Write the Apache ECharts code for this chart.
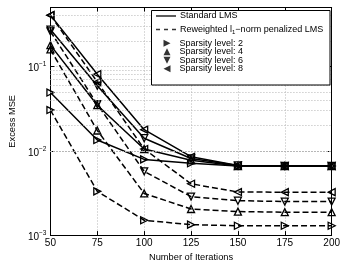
<!DOCTYPE html>
<html>
<head>
<meta charset="utf-8">
<script src="https://cdn.jsdelivr.net/npm/echarts@6/dist/echarts.min.js"></script>
<style>
html,body{margin:0;padding:0;background:#fff;}
#chart{width:343px;height:267px;}
</style>
</head>
<body>
<div id="chart"></div>
<script>
const iterations = [50, 75, 100, 125, 150, 175, 200];
const xTicks = [50, 75, 100, 125, 150, 175, 200];
const yTickLabels = ['10^-3', '10^-2', '10^-1'];
const stdLevel2 = [4.9e-2, 1.34e-2, 7.9e-3, 7.1e-3, 6.6e-3, 6.6e-3, 6.6e-3];
const stdLevel4 = [0.179, 3.47e-2, 1.05e-2, 7.7e-3, 6.6e-3, 6.6e-3, 6.6e-3];
const stdLevel6 = [0.274, 5.9e-2, 1.41e-2, 8.1e-3, 6.7e-3, 6.6e-3, 6.6e-3];
const stdLevel8 = [0.406, 8.1e-2, 1.78e-2, 8.5e-3, 6.7e-3, 6.6e-3, 6.6e-3];
const rwLevel2 = [3.04e-2, 3.3e-3, 1.50e-3, 1.33e-3, 1.29e-3, 1.29e-3, 1.29e-3];
const rwLevel4 = [0.159, 1.74e-2, 3.12e-3, 2.04e-3, 1.90e-3, 1.87e-3, 1.87e-3];
const rwLevel6 = [0.26, 3.56e-2, 5.7e-3, 2.86e-3, 2.56e-3, 2.5e-3, 2.5e-3];
const rwLevel8 = [0.406, 6.55e-2, 1.05e-2, 4.06e-3, 3.24e-3, 3.23e-3, 3.23e-3];
const minorGrid = [0.002,0.003,0.004,0.005,0.006,0.007,0.008,0.009,
                   0.02,0.03,0.04,0.05,0.06,0.07,0.08,0.09,0.2,0.3,0.4];
const legendNames = ['Standard LMS', 'Reweighted l1-norm penalized LMS',
  'Sparsity level: 2', 'Sparsity level: 4', 'Sparsity level: 6', 'Sparsity level: 8'];

const SYM = {
  2: 'path://M0,0L10,5L0,10Z',
  4: 'path://M5,0L10,10L0,10Z',
  6: 'path://M0,0L10,0L5,10Z',
  8: 'path://M10,0L0,5L10,10Z'
};
const LINE_ICON = {
  solid: 'path://M0,0L20,0L20,1.6L0,1.6Z',
  dashed: 'path://M0,0L4,0L4,1.6L0,1.6ZM8,0L12,0L12,1.6L8,1.6ZM16,0L20,0L20,1.6L16,1.6Z'
};
const FONT = 'Liberation Sans, Arial, Helvetica, sans-serif';

function mk(name, vals, level, dashed) {
  return {
    name: name, type: 'line', data: iterations.map((x, i) => [x, vals[i]]),
    symbol: SYM[level], symbolSize: 7, showSymbol: true,
    lineStyle: {color: '#000', width: 1.5, type: dashed ? [6, 3] : 'solid'},
    itemStyle: {color: 'rgba(255,255,255,0)', borderColor: '#000', borderWidth: 1.3},
    z: 3, silent: true, animation: false, legendHoverLink: false
  };
}

const series = [
  {
    name: 'minorgrid', type: 'line', data: [], silent: true, animation: false, z: 1,
    markLine: {
      silent: true, symbol: 'none', animation: false, label: {show: false},
      lineStyle: {color: '#b5b5b5', type: [1, 2], width: 1},
      data: minorGrid.map(v => ({yAxis: v}))
    }
  },
  mk('s2', stdLevel2, 2, false), mk('s4', stdLevel4, 4, false),
  mk('s6', stdLevel6, 6, false), mk('s8', stdLevel8, 8, false),
  mk('r2', rwLevel2, 2, true), mk('r4', rwLevel4, 4, true),
  mk('r6', rwLevel6, 6, true), mk('r8', rwLevel8, 8, true),
  {name: legendNames[0], type: 'scatter', data: [], symbol: LINE_ICON.solid, itemStyle: {color: '#000'}},
  {name: legendNames[1], type: 'scatter', data: [], symbol: LINE_ICON.dashed, itemStyle: {color: '#000'}},
  {name: legendNames[2], type: 'scatter', data: [], symbol: SYM[2], itemStyle: {color: '#000'}},
  {name: legendNames[3], type: 'scatter', data: [], symbol: SYM[4], itemStyle: {color: '#000'}},
  {name: legendNames[4], type: 'scatter', data: [], symbol: SYM[6], itemStyle: {color: '#000'}},
  {name: legendNames[5], type: 'scatter', data: [], symbol: SYM[8], itemStyle: {color: '#000'}}
];

const rowCenters = [16, 29, 43.3, 51.8, 60.3, 68.8];
const legendIcons = [LINE_ICON.solid, LINE_ICON.dashed, SYM[2], SYM[4], SYM[6], SYM[8]];
const legends = legendNames.map((n, i) => {
  const isLine = i < 2;
  return {
    data: [{name: n, icon: legendIcons[i]}],
    orient: 'vertical', left: isLine ? 156 : 163.5, top: rowCenters[i] - 5,
    padding: 0, itemWidth: isLine ? 20 : 7, itemHeight: isLine ? 10 : 7,
    selectedMode: false, z: 10,
    itemStyle: {color: '#000', borderWidth: 0},
    textStyle: {
      fontFamily: FONT, fontSize: 9, color: '#000', lineHeight: 10,
      padding: isLine ? [0, 0, 0, -1] : [0, 0, 0, 4],
      rich: {
        t: {fontFamily: FONT, fontSize: 9, color: '#000', lineHeight: 10},
        sub: {fontFamily: FONT, fontSize: 6, color: '#000', lineHeight: 10, padding: [5, 0, 0, 0]}
      }
    },
    formatter: function (name) {
      if (name.indexOf('Reweighted') === 0) return '{t|Reweighted l}{sub|1}{t|\u2212norm penalized LMS}';
      return name;
    }
  };
});

function yLabel(v) {
  const l = Math.log10(v);
  const r = Math.round(l);
  if (Math.abs(l - r) > 1e-6) return '';
  const lbl = yTickLabels.find(s => s === '10^' + r);
  if (!lbl) return '';
  return '{b|10}{s|' + String(r).replace('-', '\u2212') + '}';
}

const axisCommon = {
  axisLine: {show: true, onZero: false, lineStyle: {color: '#000', width: 1}},
  axisTick: {show: true, inside: true, length: 4, lineStyle: {color: '#000'}}
};

const option = {
  animation: false,
  backgroundColor: '#fff',
  grid: {left: 34, right: 11, top: 7.5, bottom: 25, containLabel: false},
  xAxis: [
    Object.assign({
      type: 'value', min: 50, max: 200, interval: 25, position: 'bottom',
      name: 'Number of Iterations', nameLocation: 'middle', nameGap: 17,
      nameTextStyle: {fontFamily: FONT, fontSize: 9.3, color: '#000'},
      axisLabel: {fontFamily: FONT, fontSize: 10, color: '#000', margin: 3,
        formatter: v => (xTicks.indexOf(v) >= 0 ? String(v) : '')},
      splitLine: {show: true, lineStyle: {color: '#b5b5b5', type: [1, 2], width: 1}}
    }, axisCommon),
    Object.assign({
      type: 'value', min: 50, max: 200, interval: 25, position: 'top',
      axisLabel: {show: false}, splitLine: {show: false}
    }, axisCommon)
  ],
  yAxis: [
    Object.assign({
      type: 'log', logBase: 10, min: 0.001, max: 0.5, position: 'left',
      name: 'Excess MSE', nameLocation: 'middle', nameGap: 26,
      nameTextStyle: {fontFamily: FONT, fontSize: 9.3, color: '#000'},
      axisLabel: {fontFamily: FONT, color: '#000', margin: 4, formatter: yLabel,
        rich: {
          b: {fontFamily: FONT, fontSize: 10, color: '#000', lineHeight: 14, padding: [4, 0, 0, 0]},
          s: {fontFamily: FONT, fontSize: 6.5, color: '#000', lineHeight: 14, padding: [0, 0, 4, 0]}
        }},
      splitLine: {show: true, lineStyle: {color: '#b5b5b5', type: [1, 2], width: 1}}
    }, axisCommon),
    Object.assign({
      type: 'log', logBase: 10, min: 0.001, max: 0.5, position: 'right',
      axisLabel: {show: false}, splitLine: {show: false}
    }, axisCommon)
  ],
  legend: legends,
  graphic: [{
    type: 'rect', z: 8, silent: true,
    shape: {x: 151.5, y: 10.5, width: 178.5, height: 74.5},
    style: {fill: '#fff', stroke: '#000', lineWidth: 1}
  }],
  series: series
};

const chart = echarts.init(document.getElementById('chart'), null, {renderer: 'canvas'});
chart.setOption(option);
</script>
</body>
</html>
